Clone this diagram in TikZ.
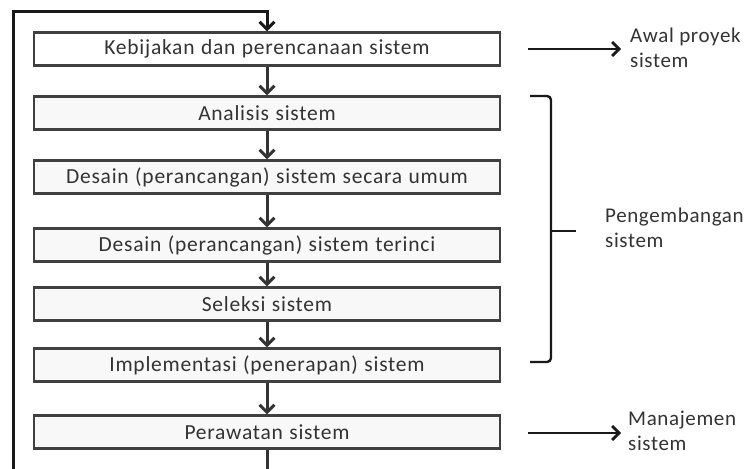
\documentclass[tikz,border=0pt]{standalone}
\usepackage{fontspec}
\setmainfont{Carlito}
\newfontfamily\boxfont{Carlito}[LetterSpace=3.5,WordSpace=1.15]
\newfontfamily\notefont{Carlito}[LetterSpace=3]
\usetikzlibrary{arrows.meta}
\definecolor{ink}{HTML}{333333}
\definecolor{edge}{HTML}{404040}
\definecolor{paper}{HTML}{F8F8F8}
\begin{document}
\begin{tikzpicture}[x=1pt,y=-1pt,
  stagebox/.style={draw=edge,line width=2.2pt,fill=paper,minimum width=466pt,
    minimum height=33pt,inner sep=0pt,font=\boxfont\fontsize{21.5}{24}\selectfont,text=ink},
  flow/.style={draw=ink,line width=3pt,-{Straight Barb[length=7.5pt,width=15pt,line width=3pt]}},
  side/.style={draw=black!90,line width=2.8pt,-{Straight Barb[length=7pt,width=14pt,line width=2.8pt]}},
  note/.style={anchor=west,align=left,font=\notefont\fontsize{21}{25}\selectfont,text=ink,inner sep=0pt}]
\useasboundingbox (0,0) rectangle (746,468);

% the stages of the system life cycle
\node[stagebox,fill=white] (s1) at (267,49)  {Kebijakan dan perencanaan sistem};
\node[stagebox] (s2) at (267,113) {Analisis sistem};
\node[stagebox] (s3) at (267,177) {Desain (perancangan) sistem secara umum};
\node[stagebox] (s4) at (267,245) {Desain (perancangan) sistem terinci};
\node[stagebox] (s5) at (267,304) {Seleksi sistem};
\node[stagebox] (s6) at (267,365) {Implementasi (penerapan) sistem};
\node[stagebox] (s7) at (267,432) {Perawatan sistem};

% flow between stages
\draw[flow] (s1) -- (s2);
\draw[flow] (s2) -- (s3);
\draw[flow] (s3) -- (s4);
\draw[flow] (s4) -- (s5);
\draw[flow] (s5) -- (s6);
\draw[flow] (s6) -- (s7);

% feedback loop back to the first stage
\coordinate (bot) at (267,470);
\coordinate (lb) at (13,470);
\coordinate (lt) at (13,12);
\coordinate (tt) at (267,12);
\draw[draw=ink,line width=3pt] (s7.south) -- (bot);
\draw[flow,draw=black!90] (lb) -- (lt) -- (tt) -- (s1.north);

% side notes
\coordinate (a1s) at (528,49);
\coordinate (a1e) at (621,49);
\node[note] (n1) at (630,48) {Awal proyek\\sistem};
\draw[side] (a1s) -- (a1e);

\coordinate (a2s) at (528,433);
\coordinate (a2e) at (621,433);
\node[note] (n2) at (628,431) {Manajemen\\sistem};
\draw[side] (a2s) -- (a2e);

% bracket grouping the development stages
\coordinate (bt) at (530,96);
\coordinate (bb) at (530,362);
\coordinate (btip) at (576,231);
\draw[draw=black!90,line width=2.4pt,rounded corners=4pt]
  (bt) -- (551,96) -- (551,362) -- (bb);
\draw[draw=black!90,line width=2.4pt] (551,231) -- (btip);
\node[note] (n3) at (605,228) {Pengembangan\\sistem};
\end{tikzpicture}
\end{document}
